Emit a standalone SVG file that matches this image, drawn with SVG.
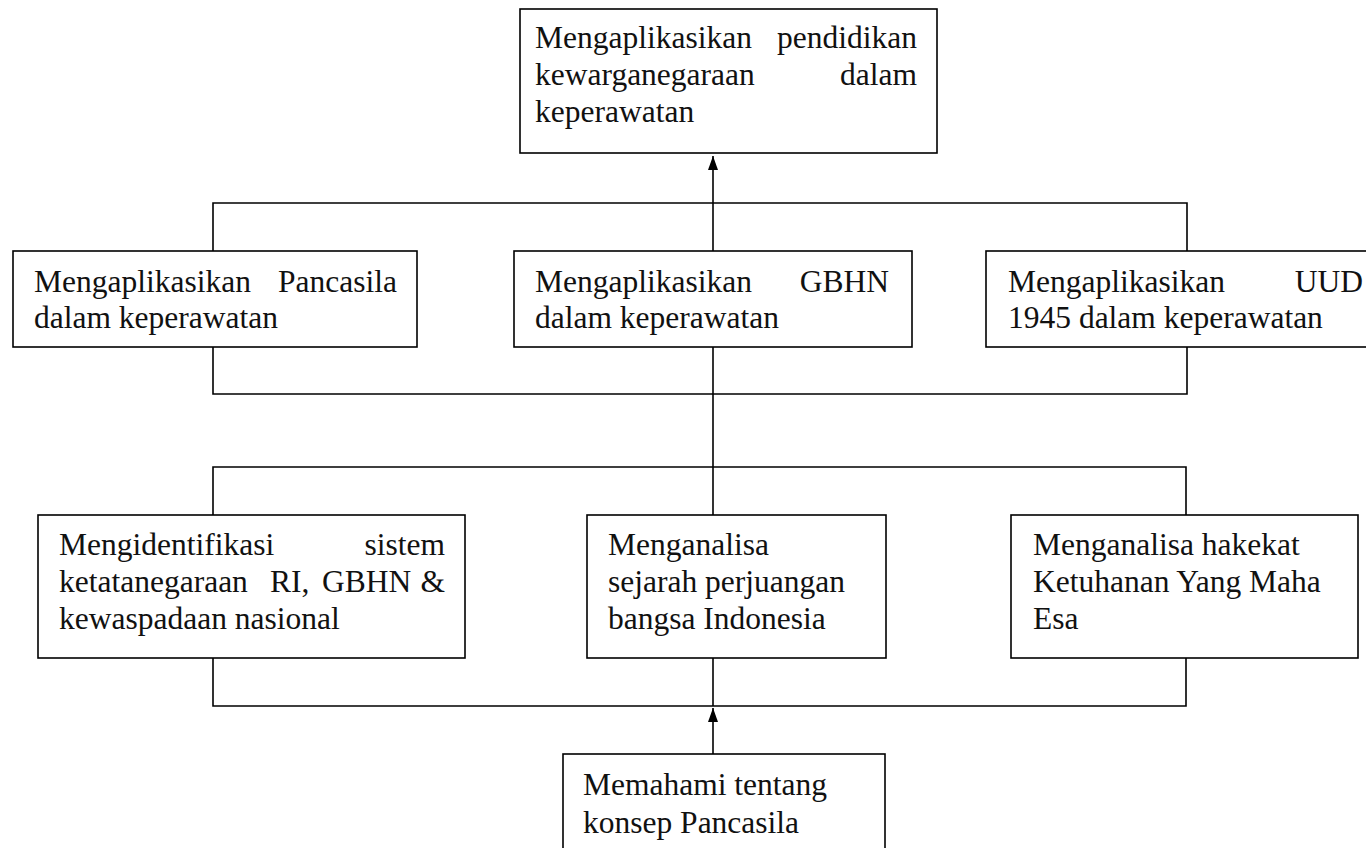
<svg xmlns="http://www.w3.org/2000/svg" width="1366" height="848" viewBox="0 0 1366 848">
<style>
.box{fill:#fff;stroke:#000;stroke-width:1.6}
.ln{fill:none;stroke:#000;stroke-width:1.6}
text{font-family:"Liberation Serif","Times New Roman",serif;font-size:31.5px;fill:#111}
.e{text-anchor:end}
</style>
<defs>
<marker id="arr" viewBox="0 0 14 10" refX="14" refY="5" markerWidth="14" markerHeight="10" markerUnits="userSpaceOnUse" orient="auto">
<path d="M0,0 L14,5 L0,10 z" fill="#000"/>
</marker>
</defs>
<rect width="1366" height="848" fill="#fff"/>
<g id="connectors">
<line class="ln" x1="713" y1="251" x2="713" y2="156" marker-end="url(#arr)"/>
<polyline class="ln" points="213,251 213,203 1187,203 1187,251"/>
<polyline class="ln" points="213,347 213,394 1187,394 1187,347"/>
<line class="ln" x1="713" y1="347" x2="713" y2="515"/>
<polyline class="ln" points="213,515 213,467 1186,467 1186,515"/>
<polyline class="ln" points="213,658 213,706 1186,706 1186,658"/>
<line class="ln" x1="713" y1="658" x2="713" y2="706"/>
<line class="ln" x1="713" y1="754" x2="713" y2="708" marker-end="url(#arr)"/>
</g>
<g id="n-top">
<rect class="box" x="520" y="9" width="417" height="144"/>
<text x="535" y="48">Mengaplikasikan</text><text class="e" x="917" y="48">pendidikan</text>
<text x="535" y="85">kewarganegaraan</text><text class="e" x="917" y="85">dalam</text>
<text x="535" y="122">keperawatan</text>
</g>
<g id="n-pancasila">
<rect class="box" x="13" y="251" width="404" height="96"/>
<text x="34" y="292">Mengaplikasikan</text><text class="e" x="397" y="292">Pancasila</text>
<text x="34" y="328">dalam keperawatan</text>
</g>
<g id="n-gbhn">
<rect class="box" x="514" y="251" width="398" height="96"/>
<text x="535" y="292">Mengaplikasikan</text><text class="e" x="889" y="292">GBHN</text>
<text x="535" y="328">dalam keperawatan</text>
</g>
<g id="n-uud">
<rect class="box" x="986" y="251" width="400" height="96"/>
<text x="1008" y="292">Mengaplikasikan</text><text class="e" x="1363" y="292">UUD</text>
<text x="1008" y="328">1945 dalam keperawatan</text>
</g>
<g id="n-sistem">
<rect class="box" x="38" y="515" width="427" height="143"/>
<text x="59" y="555">Mengidentifikasi</text><text class="e" x="445" y="555">sistem</text>
<text x="59" y="592">ketatanegaraan</text><text x="270" y="592">RI,</text><text x="322" y="592">GBHN</text><text class="e" x="445" y="592">&amp;</text>
<text x="59" y="629">kewaspadaan nasional</text>
</g>
<g id="n-sejarah">
<rect class="box" x="587" y="515" width="299" height="143"/>
<text x="608" y="555">Menganalisa</text>
<text x="608" y="592">sejarah perjuangan</text>
<text x="608" y="629">bangsa Indonesia</text>
</g>
<g id="n-ketuhanan">
<rect class="box" x="1011" y="515" width="347" height="143"/>
<text x="1033" y="555">Menganalisa hakekat</text>
<text x="1033" y="592">Ketuhanan Yang Maha</text>
<text x="1033" y="629">Esa</text>
</g>
<g id="n-konsep">
<rect class="box" x="563" y="754" width="322" height="110"/>
<text x="583" y="795">Memahami tentang</text>
<text x="583" y="833">konsep Pancasila</text>
</g>
</svg>
